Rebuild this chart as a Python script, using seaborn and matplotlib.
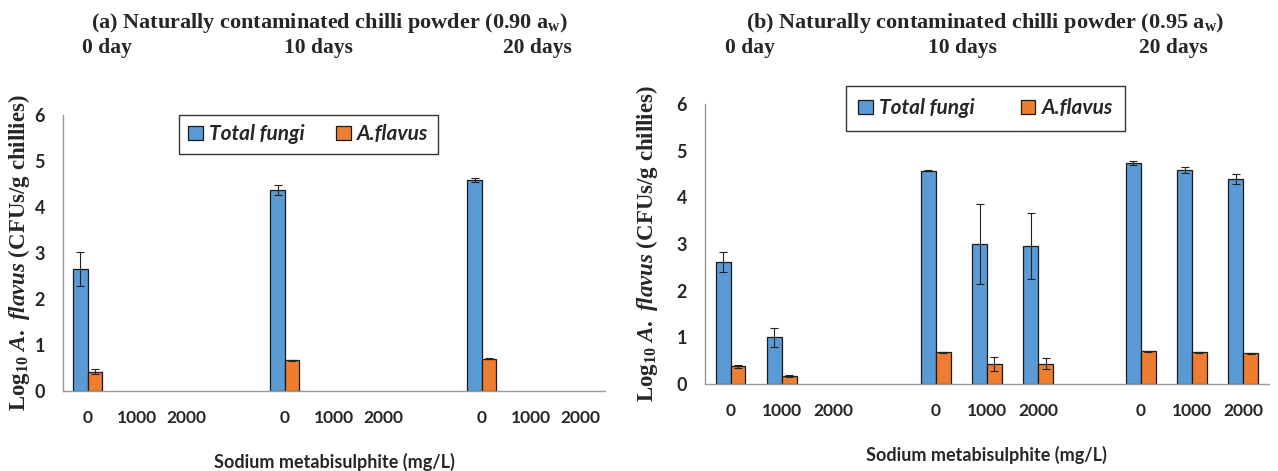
import numpy as np
import pandas as pd
import matplotlib
matplotlib.use("Agg")
import matplotlib.pyplot as plt
import seaborn as sns

# ---------------- data ----------------
slots = ["0d-0", "0d-1000", "0d-2000", "gap1",
         "10d-0", "10d-1000", "10d-2000", "gap2",
         "20d-0", "20d-1000", "20d-2000"]
slot_labels = ["0", "1000", "2000", "", "0", "1000", "2000", "", "0", "1000", "2000"]
data_slots = [s for s in slots if not s.startswith("gap")]
series = ["Total fungi", "A.flavus"]
day_labels = ["0 day", "10 days", "20 days"]

# (a) 0.90 aw
a_total = [2.65, 0, 0, 4.37, 0, 0, 4.59, 0, 0]
a_total_err = [0.36, 0, 0, 0.10, 0, 0, 0.04, 0, 0]
a_flavus = [0.42, 0, 0, 0.67, 0, 0, 0.70, 0, 0]
a_flavus_err = [0.05, 0, 0, 0.01, 0, 0, 0.01, 0, 0]

# (b) 0.95 aw
b_total = [2.61, 1.00, 0, 4.57, 3.00, 2.95, 4.74, 4.58, 4.39]
b_total_err = [0.22, 0.20, 0, 0.01, 0.85, 0.71, 0.04, 0.06, 0.10]
b_flavus = [0.38, 0.16, 0, 0.68, 0.43, 0.43, 0.70, 0.68, 0.66]
b_flavus_err = [0.03, 0.02, 0, 0.01, 0.15, 0.12, 0.01, 0.01, 0.01]

titles = [r"(a) Naturally contaminated chilli powder (0.90 a$_\mathregular{w}$)",
          r"(b) Naturally contaminated chilli powder (0.95 a$_\mathregular{w}$)"]
ylabel = r"Log$_\mathregular{10}$ $\mathit{A.\ flavus}$ (CFUs/g chillies)"
xlabel = "Sodium metabisulphite (mg/L)"
colors = ["#5B9BD5", "#ED7D31"]

# ---------------- style ----------------
sns.set_theme(style="white")
plt.rcParams["font.family"] = ["Lato", "DejaVu Sans"]
plt.rcParams["mathtext.fontset"] = "custom"
plt.rcParams["mathtext.it"] = "Liberation Serif:italic:bold"
plt.rcParams["mathtext.rm"] = "Liberation Serif:bold"

fig = plt.figure(figsize=(12.78, 4.71), dpi=100)
ax_a = fig.add_axes([0.0493, 0.170, 0.424, 0.586])
ax_b = fig.add_axes([0.5516, 0.185, 0.4413, 0.5945])


def make_df(total, total_err, flavus, flavus_err):
    rows = []
    for s, v, e in zip(data_slots, total, total_err):
        rows.append(dict(slot=s, series=series[0], value=v, err=e))
    for s, v, e in zip(data_slots, flavus, flavus_err):
        rows.append(dict(slot=s, series=series[1], value=v, err=e))
    return pd.DataFrame(rows)


def draw(ax, df, legend_anchor, borderpad, colspace):
    sns.barplot(data=df, x="slot", y="value", hue="series", order=slots,
                hue_order=series, palette=colors, saturation=1, width=0.58,
                edgecolor="#1a1a1a", linewidth=0.9, errorbar=None, ax=ax)
    for cont, ser in zip(ax.containers, series):
        sub = df[df.series == ser]
        xs, ys, es = [], [], []
        for bar, (_, r) in zip(cont, sub.iterrows()):
            if bar.get_height() == 0:
                bar.set_linewidth(0)
            if r.err > 0:
                xs.append(bar.get_x() + bar.get_width() / 2)
                ys.append(bar.get_height())
                es.append(r.err)
        ax.errorbar(xs, ys, yerr=es, fmt="none", ecolor="#222222",
                    elinewidth=0.8, capsize=3, capthick=0.8)
    ax.set_ylim(0, 6)
    ax.set_xlim(-0.5, len(slots) - 0.5)
    ax.set_yticks(range(7))
    ax.set_xticks(range(len(slots)))
    ax.set_xticklabels(slot_labels)
    ax.set_xticks(np.arange(-0.5, len(slots), 1), minor=True)
    ax.tick_params(axis="x", which="major", length=0, pad=14, labelsize=12.5)
    ax.tick_params(axis="x", which="minor", length=5, color="#999999", direction="out")
    ax.tick_params(axis="y", length=5, color="#999999", direction="out", labelsize=13, pad=8)
    for lab in ax.get_xticklabels() + ax.get_yticklabels():
        lab.set_fontweight("bold")
    for sp in ["top", "right"]:
        ax.spines[sp].set_visible(False)
    for sp in ["left", "bottom"]:
        ax.spines[sp].set_color("#999999")
        ax.spines[sp].set_linewidth(1.0)
    ax.set_xlabel(xlabel, fontsize=13, fontweight="bold", labelpad=19)
    ax.set_ylabel(ylabel, fontsize=16.5, fontweight="bold", family="Liberation Serif")
    handles, labels = ax.get_legend_handles_labels()
    leg = ax.legend(handles, labels, ncol=2, loc="upper left",
                    bbox_to_anchor=legend_anchor, frameon=True, fancybox=False,
                    edgecolor="black", handlelength=0.7, handleheight=0.7,
                    handletextpad=0.3, columnspacing=colspace, borderpad=borderpad,
                    borderaxespad=0,
                    prop=dict(family="Lato", weight="bold", style="italic", size=15))
    leg.get_frame().set_linewidth(1.0)


draw(ax_a, make_df(a_total, a_total_err, a_flavus, a_flavus_err), (0.214, 1.0), 0.45, 1.5)
draw(ax_b, make_df(b_total, b_total_err, b_flavus, b_flavus_err), (0.25, 1.064), 0.6, 2.2)
ax_a.yaxis.set_label_coords(-0.057, 0.5)
ax_b.yaxis.set_label_coords(-0.080, 0.5)

# titles and day labels
fig.text(330 / 1278, 1 - 28 / 471, titles[0], ha="center", va="baseline",
         family="Liberation Serif", weight="bold", fontsize=16)
fig.text(985 / 1278, 1 - 28 / 471, titles[1], ha="center", va="baseline",
         family="Liberation Serif", weight="bold", fontsize=16)
for x, t in zip([107, 318, 537], day_labels):
    fig.text(x / 1278, 1 - 53 / 471, t, ha="center", va="baseline",
             family="Liberation Serif", weight="bold", fontsize=15.5)
for x, t in zip([750, 962, 1173], day_labels):
    fig.text(x / 1278, 1 - 53 / 471, t, ha="center", va="baseline",
             family="Liberation Serif", weight="bold", fontsize=15.5)

fig.savefig("out.png", dpi=100)
